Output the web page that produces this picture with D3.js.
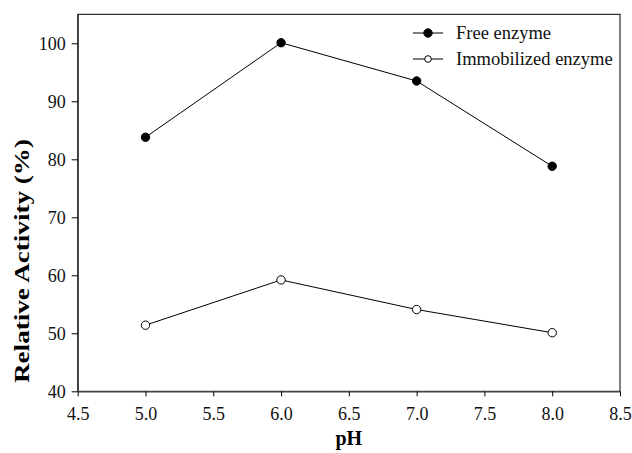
<!DOCTYPE html>
<html><head><meta charset="utf-8">
<script src="https://cdn.jsdelivr.net/npm/d3@7"></script>
<style>body{margin:0;background:#fff}svg{display:block}</style>
</head><body>
<svg id="c" width="632" height="453"></svg>
<script>
const phValues = [5.0, 6.0, 7.0, 8.0];
const freeEnzyme = [83.8, 100.1, 93.5, 78.8];
const immobilizedEnzyme = [51.4, 59.2, 54.1, 50.1];
const xTicks = [4.5, 5.0, 5.5, 6.0, 6.5, 7.0, 7.5, 8.0, 8.5];
const yTicks = [40, 50, 60, 70, 80, 90, 100];
const seriesNames = ["Free enzyme", "Immobilized enzyme"];

const svg = d3.select("#c");
const L = 77.7, R = 620, T = 14.3, B = 391.3;
const x = d3.scaleLinear().domain([4.5, 8.5]).range([L, R]);
const y = d3.scaleLinear().domain([40, 105]).range([B, T]);
const font = "'Liberation Serif', 'Times New Roman', serif";

// frame
svg.append("rect").attr("x", L).attr("y", T).attr("width", R - L).attr("height", B - T)
  .attr("fill", "none").attr("stroke", "#000").attr("stroke-width", 1);

const xAxis = svg.append("g").attr("transform", `translate(0,${B})`)
  .call(d3.axisBottom(x).tickValues(xTicks).tickFormat(d3.format(".1f")).tickSizeInner(5).tickSizeOuter(0).tickPadding(11));
const yAxis = svg.append("g").attr("transform", `translate(${L},0)`)
  .call(d3.axisLeft(y).tickValues(yTicks).tickSizeInner(6).tickSizeOuter(0).tickPadding(6));
[xAxis, yAxis].forEach(g => {
  g.select(".domain").attr("stroke", "#444").attr("stroke-width", 1.5);
  g.selectAll(".tick line").attr("stroke", "#000");
  g.selectAll("text").attr("font-family", font).attr("font-size", 18).attr("fill", "#111");
});
yAxis.selectAll("text").attr("dy", "0.35em");

// axis titles
svg.append("text").attr("x", (L + R) / 2).attr("y", 445).attr("text-anchor", "middle")
  .attr("font-family", font).attr("font-weight", "bold").attr("font-size", 20).text("pH");
svg.append("text").attr("transform", "translate(29,261) rotate(-90)").attr("text-anchor", "middle")
  .attr("font-family", font).attr("font-weight", "bold").attr("font-size", 20)
  .attr("textLength", 244).attr("lengthAdjust", "spacingAndGlyphs").text("Relative Activity (%)");

const line = d3.line().x(d => x(d[0])).y(d => y(d[1]));
const series = [
  { name: seriesNames[0], vals: freeEnzyme, fill: "#000" },
  { name: seriesNames[1], vals: immobilizedEnzyme, fill: "#fff" }
];
series.forEach(s => {
  const pts = phValues.map((p, i) => [p, s.vals[i]]);
  svg.append("path").attr("d", line(pts)).attr("fill", "none").attr("stroke", "#000").attr("stroke-width", 1);
  svg.selectAll(null).data(pts).enter().append("circle")
    .attr("cx", d => x(d[0])).attr("cy", d => y(d[1])).attr("r", 4.2)
    .attr("fill", s.fill).attr("stroke", "#000").attr("stroke-width", 1);
});

// legend
const legY = [33, 59];
series.forEach((s, i) => {
  const g = svg.append("g").attr("transform", `translate(0,${legY[i]})`);
  g.append("line").attr("x1", 413).attr("x2", 443).attr("y1", 0).attr("y2", 0).attr("stroke", "#000");
  g.append("circle").attr("cx", 428).attr("cy", 0).attr("r", i === 0 ? 4.2 : 3.3)
    .attr("fill", s.fill).attr("stroke", "#000");
  g.append("text").attr("x", 456).attr("y", 0).attr("dy", "0.33em")
    .attr("font-family", font).attr("font-size", 18.5).attr("fill", "#111").text(s.name);
});
</script>
</body></html>
